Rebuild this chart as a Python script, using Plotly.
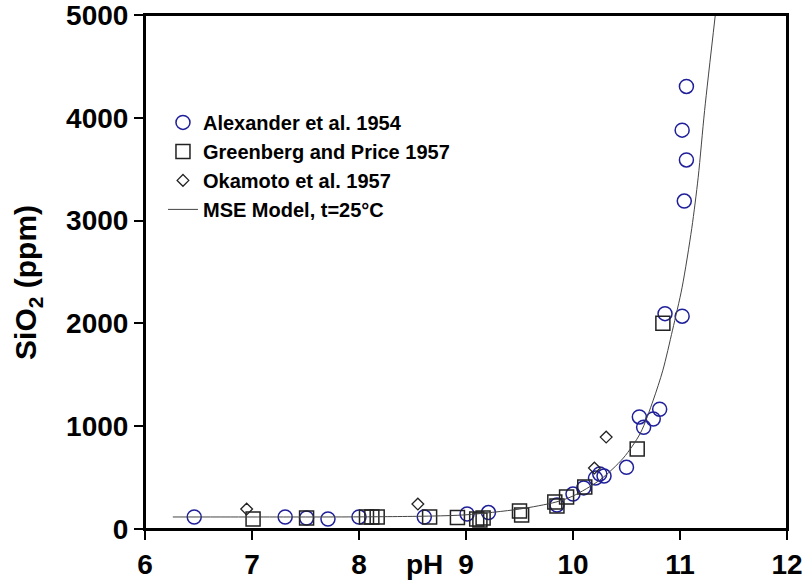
import plotly.graph_objects as go

# Alexander et al. 1954 (blue open circles)
alex_ph = [6.46, 7.31, 7.51, 7.71, 8.00, 8.61, 9.01, 9.21, 9.85, 10.00, 10.10,
           10.21, 10.25, 10.29, 10.50, 10.62, 10.66, 10.75, 10.81, 10.86, 11.02,
           11.04, 11.06, 11.02, 11.06]
alex_si = [117, 117, 107, 97, 117, 117, 146, 160, 233, 340, 400,
           495, 535, 515, 600, 1090, 990, 1070, 1165, 2095, 2070,
           3190, 3590, 3880, 4305]

# Greenberg and Price 1957 (black open squares)
gp_ph = [7.01, 7.51, 8.07, 8.12, 8.17, 8.66, 8.92, 9.10, 9.13, 9.16, 9.50,
         9.52, 9.83, 9.85, 9.94, 10.11, 10.60, 10.84]
gp_si = [97, 107, 117, 117, 117, 117, 112, 97, 87, 107, 175,
         136, 262, 224, 311, 408, 777, 2002]

# Okamoto et al. 1957 (open diamonds)
ok_ph = [6.95, 8.55, 10.20, 10.31]
ok_si = [194, 243, 593, 894]

# MSE Model, t=25°C
mse_ph = [6.26, 7.0, 8.0, 8.68, 9.0, 9.5, 9.84, 10.0, 10.25, 10.47, 10.63,
          10.75, 10.84, 10.93, 11.02, 11.11, 11.17, 11.23, 11.33]
mse_si = [117, 117, 118, 126, 138, 194, 262, 321, 476, 690, 933,
          1254, 1545, 1934, 2352, 2925, 3421, 4072, 5000]

FONT = "Liberation Sans, Arial, sans-serif"

fig = go.Figure()
fig.add_trace(go.Scatter(
    x=alex_ph, y=alex_si, mode="markers", name="Alexander et al. 1954",
    marker=dict(symbol="circle-open", size=14, color="#1f1f9a",
                line=dict(width=1.5, color="#1f1f9a"))))
fig.add_trace(go.Scatter(
    x=gp_ph, y=gp_si, mode="markers", name="Greenberg and Price 1957",
    marker=dict(symbol="square-open", size=14, color="#222222",
                line=dict(width=1.5, color="#222222"))))
fig.add_trace(go.Scatter(
    x=ok_ph, y=ok_si, mode="markers", name="Okamoto et al. 1957",
    marker=dict(symbol="diamond-open", size=9, color="#222222",
                line=dict(width=1.3, color="#222222"))))
fig.add_trace(go.Scatter(
    x=mse_ph, y=mse_si, mode="lines", name="MSE Model, t=25°C",
    line=dict(color="#444444", width=1, shape="spline", smoothing=0.8)))

fig.update_layout(
    width=805, height=580,
    margin=dict(l=145, r=18, t=15, b=51, autoexpand=False),
    paper_bgcolor="white", plot_bgcolor="white",
    font=dict(family=FONT, size=28, color="black", weight="bold"),
    showlegend=True,
    legend=dict(x=0.028, y=0.829, xanchor="left", yanchor="top",
                bgcolor="rgba(0,0,0,0)", borderwidth=0,
                font=dict(family=FONT, size=20, color="black", weight="bold"),
                itemwidth=30),
    shapes=[dict(type="rect", xref="paper", yref="paper", x0=0, x1=1, y0=0, y1=1,
                 line=dict(color="black", width=2), layer="above")],
)
fig.update_xaxes(
    range=[6, 12], tickvals=[6, 7, 8, 9, 10, 11, 12],
    showline=True, linecolor="black", linewidth=2, mirror=True,
    ticks="outside", ticklen=9, tickwidth=1.5, tickcolor="black",
    showgrid=False, zeroline=False, ticklabeloverflow="allow",
    tickfont=dict(family=FONT, size=28, color="black", weight="bold"))
fig.update_yaxes(
    range=[0, 5000], tickvals=[0, 1000, 2000, 3000, 4000, 5000],
    showline=True, linecolor="black", linewidth=2, mirror=True,
    ticks="outside", ticklen=9, tickwidth=1.5, tickcolor="black",
    showgrid=False, zeroline=False, ticklabeloverflow="allow",
    tickfont=dict(family=FONT, size=28, color="black", weight="bold"))
fig.add_annotation(text="SiO<sub>2</sub> (ppm)", textangle=-90,
                   x=-0.182, xref="paper", y=0.479, yref="paper",
                   xanchor="center", yanchor="middle", showarrow=False,
                   font=dict(family=FONT, size=30, color="black", weight="bold"))
fig.add_annotation(text="pH", x=8.61, xref="x", y=-0.07, yref="paper",
                   xanchor="center", yanchor="middle", showarrow=False,
                   font=dict(family=FONT, size=28, color="black", weight="bold"))

fig.write_html("out.html")
